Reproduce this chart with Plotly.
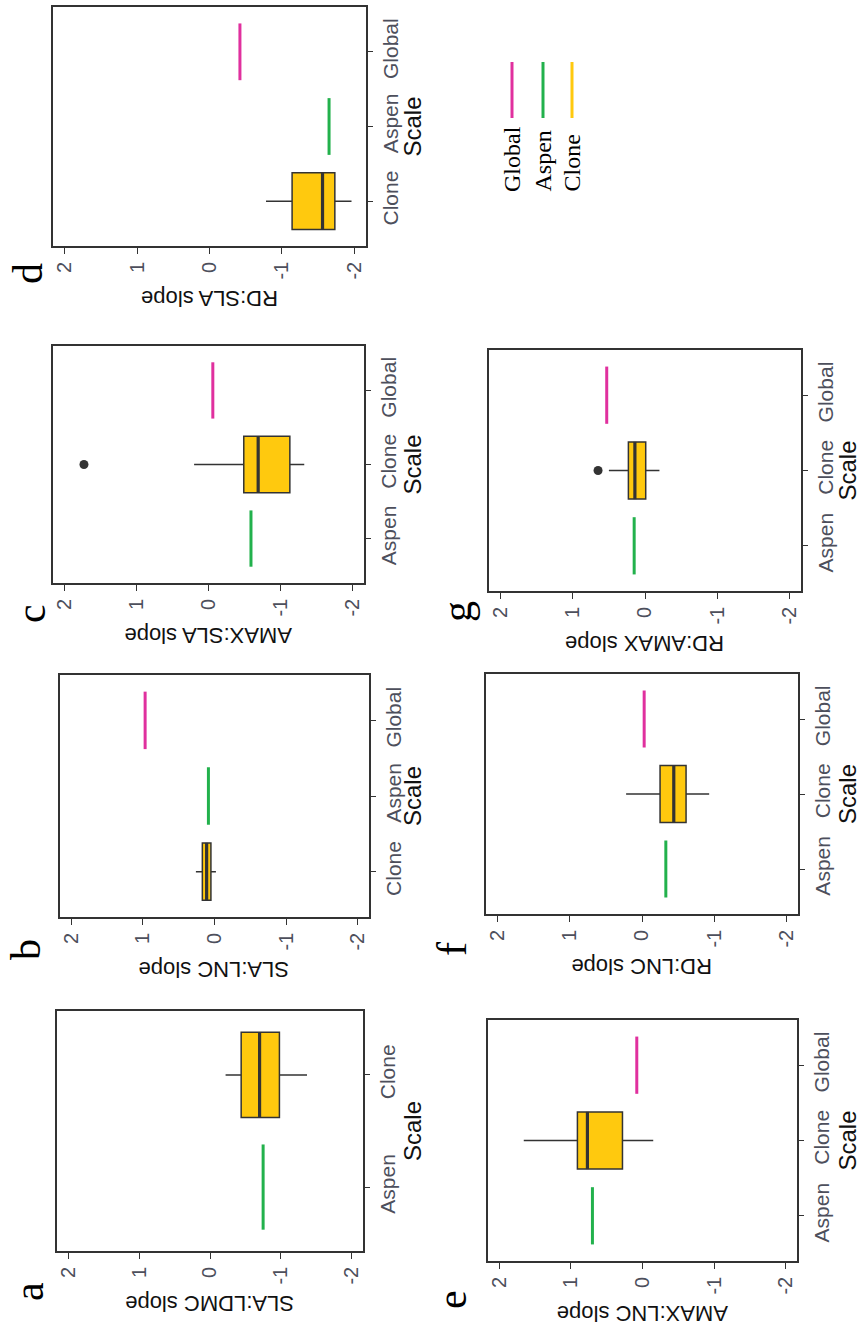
import plotly.graph_objects as go

# ---------------- data ----------------
panel_letters = ["a", "b", "c", "d", "e", "f", "g"]
x_titles = ["SLA:LDMC slope", "SLA:LNC slope", "AMAX:SLA slope", "RD:SLA slope",
            "AMAX:LNC slope", "RD:LNC slope", "RD:AMAX slope"]
# category order from bottom to top of each panel (as drawn)
category_order = [
    ["Aspen", "Clone"],
    ["Clone", "Aspen", "Global"],
    ["Aspen", "Clone", "Global"],
    ["Clone", "Aspen", "Global"],
    ["Aspen", "Clone", "Global"],
    ["Aspen", "Clone", "Global"],
    ["Aspen", "Clone", "Global"],
]
aspen_slope = [-0.75, 0.085, -0.59, -1.65, 0.70, -0.33, 0.15]
global_slope = [None, 0.97, -0.06, -0.42, 0.08, -0.03, 0.53]
clone_min = [-1.37, -0.02, -1.33, -1.96, -0.15, -0.93, -0.20]
clone_q1 = [-0.98, 0.05, -1.13, -1.73, 0.28, -0.61, -0.01]
clone_median = [-0.70, 0.11, -0.69, -1.56, 0.77, -0.44, 0.14]
clone_q3 = [-0.44, 0.17, -0.49, -1.14, 0.91, -0.25, 0.23]
clone_max = [-0.22, 0.26, 0.20, -0.78, 1.66, 0.22, 0.50]
clone_outliers = [[], [], [1.73], [], [], [], [0.65]]
tick_values = [2, 1, 0, -1, -2]
tick_labels = ["2", "1", "0", "-1", "-2"]
legend_labels = ["Global", "Aspen", "Clone"]

# ---------------- styling / layout ----------------
W, H = 862, 1331
COL = {"Global": "#E0309E", "Aspen": "#22B14C", "Clone": "#FFC90E"}
DARK = "#333333"
SANS = "Liberation Sans, Arial, sans-serif"
SERIF = "Liberation Serif, Times New Roman, serif"

# frame pixel boxes (x0, x1, y0, y1) for each panel
frames = {
    "d": (53, 366, 7, 246),
    "c": (53, 364, 346, 583),
    "b": (60, 369, 675, 917),
    "a": (57, 363, 1011, 1251),
    "g": (489, 801, 350, 591),
    "f": (486, 798, 674, 914),
    "e": (488, 797, 1020, 1261),
}
letter_pos = {"d": (28, 274), "c": (31, 614), "b": (26, 950), "a": (29, 1292),
              "g": (457, 612), "f": (452, 949), "e": (452, 1300)}

HALF = 0.38

fig = go.Figure()
layout = dict(width=W, height=H, margin=dict(l=0, r=0, t=0, b=0),
              paper_bgcolor="white", plot_bgcolor="white", showlegend=False,
              annotations=[], shapes=[])

def px(x):
    return x / W

def py(y):
    return 1 - y / H

for i, letter in enumerate(panel_letters):
    n = i + 1
    xa = "x" if n == 1 else f"x{n}"
    ya = "y" if n == 1 else f"y{n}"
    cats = category_order[i]
    pos = {c: j for j, c in enumerate(cats)}
    x0, x1, y0, y1 = frames[letter]

    # Clone box
    pc = pos["Clone"]
    fig.add_trace(go.Box(
        orientation="h", y=[pc], q1=[clone_q1[i]], median=[clone_median[i]],
        q3=[clone_q3[i]], lowerfence=[clone_min[i]], upperfence=[clone_max[i]],
        width=2 * HALF, fillcolor=COL["Clone"], line=dict(color=DARK, width=1.5),
        whiskerwidth=0, boxpoints=False, hoverinfo="skip",
        xaxis=xa, yaxis=ya))
    # thick median line
    fig.add_trace(go.Scatter(
        x=[clone_median[i], clone_median[i]], y=[pc - HALF, pc + HALF],
        mode="lines", line=dict(color=DARK, width=3.2), hoverinfo="skip",
        xaxis=xa, yaxis=ya))
    # outliers
    if clone_outliers[i]:
        fig.add_trace(go.Scatter(
            x=clone_outliers[i], y=[pc] * len(clone_outliers[i]), mode="markers",
            marker=dict(color=DARK, size=9), hoverinfo="skip",
            xaxis=xa, yaxis=ya))
    # Aspen line
    pa = pos["Aspen"]
    fig.add_trace(go.Scatter(
        x=[aspen_slope[i], aspen_slope[i]], y=[pa - HALF, pa + HALF],
        mode="lines", line=dict(color=COL["Aspen"], width=3), hoverinfo="skip",
        xaxis=xa, yaxis=ya))
    # Global line
    if "Global" in pos and global_slope[i] is not None:
        pg = pos["Global"]
        fig.add_trace(go.Scatter(
            x=[global_slope[i], global_slope[i]], y=[pg - HALF, pg + HALF],
            mode="lines", line=dict(color=COL["Global"], width=3), hoverinfo="skip",
            xaxis=xa, yaxis=ya))

    ncat = len(cats)
    ext = 0.57 if ncat == 2 else 0.6
    layout["xaxis" if n == 1 else f"xaxis{n}"] = dict(
        domain=[px(x0), px(x1)], anchor=ya, range=[2.16, -2.16],
        tickmode="array", tickvals=tick_values, ticktext=tick_labels,
        tickangle=-90, ticks="outside", ticklen=6, tickwidth=1.3, tickcolor=DARK,
        showline=True, linecolor=DARK, linewidth=1.6, mirror=True,
        showgrid=False, zeroline=False,
        tickfont=dict(family=SANS, size=20, color="#4d4f5c"))
    layout["yaxis" if n == 1 else f"yaxis{n}"] = dict(
        domain=[py(y1), py(y0)], anchor=xa, side="right",
        range=[-ext, ncat - 1 + ext],
        tickmode="array", tickvals=list(range(ncat)), ticktext=cats,
        tickangle=-90, ticks="outside", ticklen=5, tickwidth=1.3, tickcolor=DARK,
        showline=True, linecolor=DARK, linewidth=1.6, mirror=True,
        showgrid=False, zeroline=False,
        tickfont=dict(family=SANS, size=21, color="#4d4f5c"))

    # axis title (upside down)
    layout["annotations"].append(dict(
        x=px((x0 + x1) / 2), y=py(y1 + 53), xref="paper", yref="paper",
        text=x_titles[i], textangle=180, showarrow=False,
        xanchor="center", yanchor="middle",
        font=dict(family=SANS, size=22, color="#111111")))
    # Scale label
    sx = 412 if x0 < 300 else 847
    layout["annotations"].append(dict(
        x=px(sx), y=py((y0 + y1) / 2), xref="paper", yref="paper",
        text="Scale", textangle=-90, showarrow=False,
        xanchor="center", yanchor="middle",
        font=dict(family=SANS, size=24, color="#111111")))
    # panel letter
    lx, ly = letter_pos[letter]
    layout["annotations"].append(dict(
        x=px(lx), y=py(ly), xref="paper", yref="paper",
        text=letter, textangle=-90, showarrow=False,
        xanchor="center", yanchor="middle",
        font=dict(family=SERIF, size=42, color="#000000")))

# legend (drawn in the free top-right area)
legend_x = [512, 543, 572]
for lab, lx in zip(legend_labels, legend_x):
    layout["shapes"].append(dict(
        type="line", xref="paper", yref="paper",
        x0=px(lx), x1=px(lx), y0=py(62), y1=py(118),
        line=dict(color=COL[lab], width=3)))
    layout["annotations"].append(dict(
        x=px(lx), y=py(194), xref="paper", yref="paper",
        text=lab, textangle=-90, showarrow=False,
        xanchor="center", yanchor="bottom",
        font=dict(family=SERIF, size=24, color="#000000")))

fig.update_layout(**layout)
fig.write_html("out.html")
